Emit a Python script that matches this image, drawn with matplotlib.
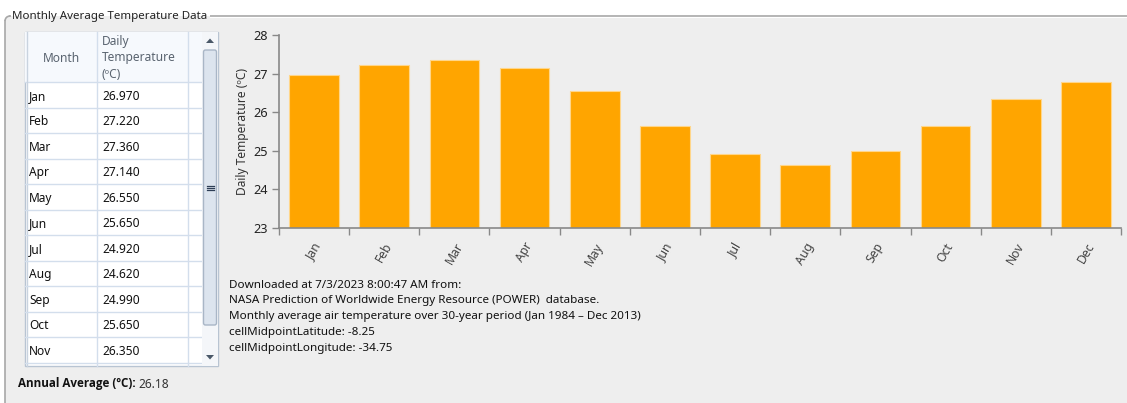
import matplotlib
matplotlib.use("Agg")
import matplotlib.pyplot as plt
from matplotlib.patches import Rectangle, FancyBboxPatch, Polygon, Arc
import numpy as np

# ---------------- data ----------------
months = ["Jan", "Feb", "Mar", "Apr", "May", "Jun", "Jul", "Aug", "Sep", "Oct", "Nov", "Dec"]
temps = [26.97, 27.22, 27.36, 27.14, 26.55, 25.65, 24.92, 24.62, 24.99, 25.65, 26.35, 26.78]
y_ticks = [23, 24, 25, 26, 27, 28]
visible_rows = 11
info_lines = [
    "Downloaded at 7/3/2023 8:00:47 AM from:",
    "NASA Prediction of Worldwide Energy Resource (POWER)  database.",
    "Monthly average air temperature over 30-year period (Jan 1984 \u2013 Dec 2013)",
    "cellMidpointLatitude: -8.25",
    "cellMidpointLongitude: -34.75",
]

FONT = "Noto Sans"
plt.rcParams["font.family"] = [FONT, "DejaVu Sans"]

W, H = 1127, 403
fig = plt.figure(figsize=(W / 100, H / 100), dpi=100, facecolor="white")

# UI overlay axes in pixel coordinates
ui = fig.add_axes([0, 0, 1, 1], zorder=0)
ui.set_xlim(0, W)
ui.set_ylim(H, 0)
ui.axis("off")

BG = "#EEEEEE"
EDGE = "#A8A8A8"
r = 5
ui.add_patch(Rectangle((5, 16 + r), W, H, facecolor=BG, edgecolor="none", zorder=1))
ui.add_patch(Rectangle((5 + r, 16), W, H, facecolor=BG, edgecolor="none", zorder=1))
ui.add_patch(FancyBboxPatch((5, 16), 2 * r + 1, 2 * r + 1, boxstyle="round,pad=0,rounding_size=5",
                            facecolor=BG, edgecolor="none", zorder=1))
ui.add_patch(Arc((5 + r, 16 + r), 2 * r, 2 * r, theta1=180, theta2=270, color=EDGE, lw=1.2,
                 zorder=5))
ui.plot([5 + r, W + 5], [16, 16], color=EDGE, lw=1.2, zorder=2)
ui.plot([5, 5], [16 + r, H + 5], color=EDGE, lw=1.2, zorder=2)
ui.plot([12, W + 5], [17.3, 17.3], color="white", lw=0.8, zorder=2)
# title over group box line
ui.add_patch(Rectangle((11, 8), 199, 14, facecolor=BG, edgecolor="none", zorder=3))
ui.add_patch(Rectangle((11, 8), 199, 8, facecolor="white", edgecolor="none", zorder=3))
ui.text(12, 16, "Monthly Average Temperature Data", fontsize=8.3, color="#222222",
        va="center", ha="left", zorder=4)

# ---- table ----
tx0, tx1 = 25, 218
col1, col2 = 97, 188
hdr_top, hdr_bot = 32, 82
row_h = 25.5
tbl_bot = 366
grid = "#D3DEEC"
ui.add_patch(Rectangle((tx0, hdr_top), tx1 - tx0, tbl_bot - hdr_top, facecolor="white",
                       edgecolor="#B8C4D2", linewidth=1.0, zorder=2))
ui.add_patch(Rectangle((tx0, hdr_top), 202 - tx0, hdr_bot - hdr_top, facecolor="#F6F9FD",
                       edgecolor="none", zorder=2))
ui.plot([tx0, 202], [hdr_bot, hdr_bot], color=grid, lw=1, zorder=3)
for x in (col1, col2):
    ui.plot([x, x], [hdr_top, tbl_bot], color=grid, lw=1, zorder=3)
ui.plot([tx0 + 2, tx0 + 2], [hdr_top, tbl_bot], color="#C9D3DF", lw=1, zorder=3)

ui.text((tx0 + col1) / 2, 58, "Month", fontsize=8.6, color="#5A6470", ha="center",
        va="center", zorder=4)
for i, s in enumerate(["Daily", "Temperature", "(\u00baC)"]):
    ui.text(102, 42 + i * 16, s, fontsize=8.6, color="#5A6470", ha="left", va="center", zorder=4)

for i in range(visible_rows):
    yb = hdr_bot + (i + 1) * row_h
    yc = hdr_bot + i * row_h + row_h / 2 + 1.5
    ui.plot([tx0, 202], [yb, yb], color=grid, lw=1, zorder=3)
    ui.text(29, yc, months[i], fontsize=8.6, color="#111111", ha="left", va="center", zorder=4)
    ui.text(102, yc, f"{temps[i]:.3f}", fontsize=8.6, color="#111111", ha="left",
            va="center", zorder=4)

# scrollbar
ui.add_patch(Rectangle((202, hdr_top), 16, tbl_bot - hdr_top, facecolor="#F4F6F9",
                       edgecolor="none", zorder=3))
ui.add_patch(FancyBboxPatch((203.5, 50), 13, 275, boxstyle="round,pad=0,rounding_size=2",
                            facecolor="#DCE4EE", edgecolor="#A9B6C6", linewidth=1, zorder=4))
ui.add_patch(Polygon([[206, 43], [214, 43], [210, 38.5]], closed=True, facecolor="#4A5868",
                     edgecolor="none", zorder=4))
ui.add_patch(Polygon([[206, 355], [214, 355], [210, 359.5]], closed=True, facecolor="#4A5868",
                     edgecolor="none", zorder=4))
for dy in (-2, 0, 2):
    ui.plot([206.5, 213.5], [188 + dy, 188 + dy], color="#2E3E56", lw=0.9, zorder=5)

# annual average
avg = np.mean(temps)
t_lab = ui.text(18, 384, "Annual Average (\u00baC):", fontsize=8.4, fontweight="bold",
                family=["Open Sans", "DejaVu Sans"],
                color="#111111", ha="left", va="center", zorder=4)
fig.canvas.draw()
bb = t_lab.get_window_extent().transformed(ui.transData.inverted())
ui.text(max(bb.x0, bb.x1) + 3, 384, f"{avg:.2f}", fontsize=8.6, color="#333333",
        ha="left", va="center", zorder=4)

# info text
for i, line in enumerate(info_lines):
    ui.text(229, 285 + i * 16, line, fontsize=8.4, color="#111111", ha="left", va="center", zorder=4)

# ---- chart ----
L, R, T, B = 279, 1121, 35, 228
ax = fig.add_axes([L / W, 1 - B / H, (R - L) / W, (B - T) / H], zorder=1)
ax.set_facecolor("none")
x = np.arange(len(months))
ax.bar(x, [t - y_ticks[0] for t in temps], bottom=y_ticks[0], width=0.71,
       color="#FFA500", edgecolor="#FFD68A", linewidth=0.8)
ax.set_xlim(-0.5, len(months) - 0.5)
ax.set_ylim(y_ticks[0], y_ticks[-1])
ax.set_yticks(y_ticks)
ax.set_yticklabels([str(v) for v in y_ticks], fontsize=9.2, color="#222222")
ax.set_xticks(np.arange(len(months) + 1) - 0.5)
ax.set_xticklabels([])
ax.set_xticks(x, minor=True)
ax.set_xticklabels(months, minor=True, rotation=60, ha="center", va="top",
                   fontsize=8.8, color="#444444")
ax.tick_params(axis="x", which="minor", length=0, pad=9)
ax.tick_params(axis="x", which="major", length=5, color="#888888", width=1)
ax.tick_params(axis="y", length=5, color="#888888", width=1, pad=3)
for s in ("top", "right"):
    ax.spines[s].set_visible(False)
for s in ("left", "bottom"):
    ax.spines[s].set_color("#888888")
    ax.spines[s].set_linewidth(1.2)
ax.set_ylabel("Daily Temperature (\u00baC)", fontsize=8.6, color="#333333", labelpad=3)

fig.savefig("out.png", dpi=100, facecolor="white")
